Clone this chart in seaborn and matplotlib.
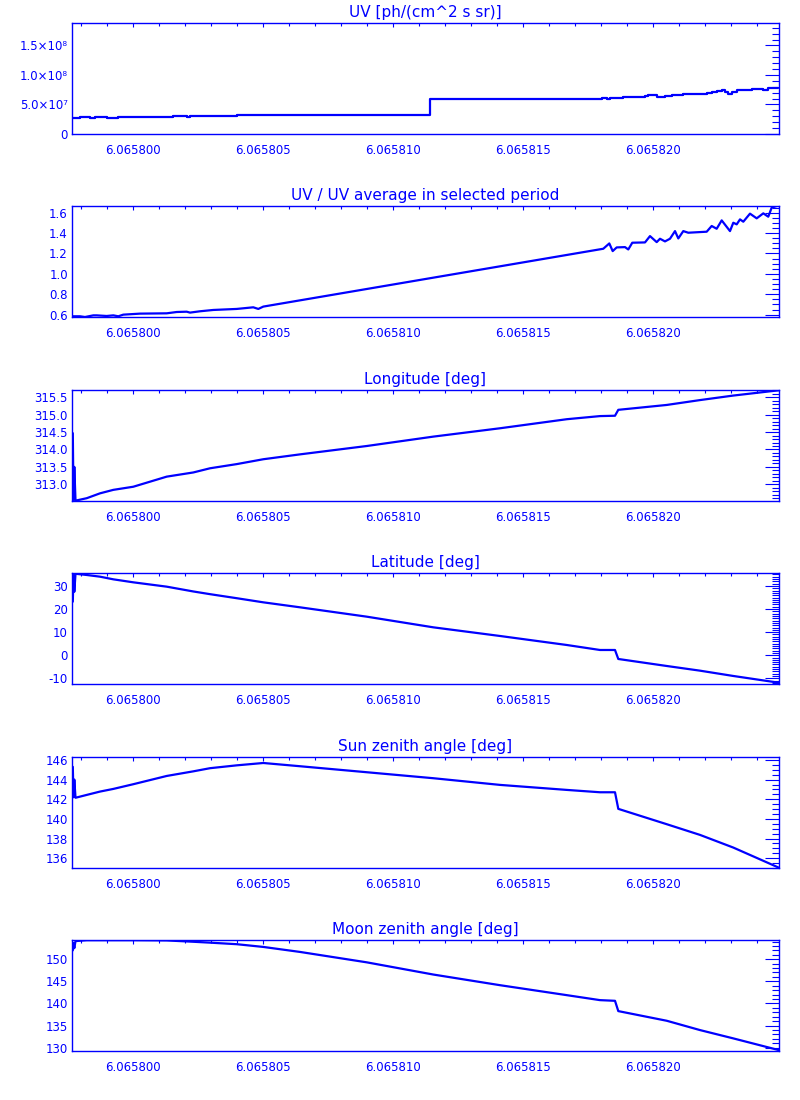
import matplotlib
matplotlib.use("Agg")
import matplotlib.pyplot as plt
import seaborn as sns
from matplotlib.ticker import MultipleLocator, FormatStrFormatter, FixedLocator, FixedFormatter

# ---------------- data ----------------
titles = ["UV [ph/(cm^2 s sr)]", "UV / UV average in selected period", "Longitude [deg]",
          "Latitude [deg]", "Sun zenith angle [deg]", "Moon zenith angle [deg]"]

uv_time = [6.065797642, 6.065797965, 6.065798350, 6.065798527, 6.065798977, 6.065799423,
           6.065801538, 6.065802054, 6.065802181, 6.065803977, 6.065811412, 6.065818015,
           6.065818208, 6.065818335, 6.065818846, 6.065819038, 6.065819681, 6.065819808,
           6.065820131, 6.065820258, 6.065820450, 6.065820708, 6.065820835, 6.065821154,
           6.065821285, 6.065822054, 6.065822246, 6.065822438, 6.065822631, 6.065822758,
           6.065822885, 6.065823015, 6.065823208, 6.065823592, 6.065823785, 6.065824231,
           6.065824423, 6.065824808]
uv_flux = [2.75e7, 2.91e7, 2.75e7, 2.91e7, 2.75e7, 2.91e7, 3.08e7, 2.91e7, 3.08e7, 3.25e7,
           6.01e7, 6.18e7, 6.01e7, 6.12e7, 6.23e7, 6.29e7, 6.46e7, 6.57e7, 6.35e7, 6.29e7,
           6.46e7, 6.68e7, 6.62e7, 6.85e7, 6.74e7, 6.91e7, 7.07e7, 7.24e7, 7.47e7, 7.13e7,
           6.85e7, 7.19e7, 7.41e7, 7.52e7, 7.58e7, 7.41e7, 7.86e7, 7.86e7]
uv_ticks = [0, 5e7, 1e8, 1.5e8]
uv_tick_labels = ["0", "5.0×10⁷", "1.0×10⁸", "1.5×10⁸"]

ratio_time = [6.065797669, 6.065797950, 6.065798142, 6.065798462, 6.065798592, 6.065798977,
              6.065799231, 6.065799423, 6.065799615, 6.065800258, 6.065801285, 6.065801669,
              6.065802054, 6.065802181, 6.065802565, 6.065803077, 6.065803977, 6.065804615,
              6.065804808, 6.065805000,
              6.065818077, 6.065818308, 6.065818438, 6.065818592, 6.065818912, 6.065819038,
              6.065819192, 6.065819681, 6.065819873, 6.065820131, 6.065820258, 6.065820450,
              6.065820642, 6.065820835, 6.065820962, 6.065821154, 6.065821346, 6.065822054,
              6.065822246, 6.065822438, 6.065822631, 6.065822950, 6.065823077, 6.065823208,
              6.065823335, 6.065823462, 6.065823719, 6.065823977, 6.065824231, 6.065824423,
              6.065824554, 6.065824746]
ratio = [0.584, 0.584, 0.577, 0.593, 0.593, 0.587, 0.593, 0.584, 0.600, 0.610,
         0.613, 0.626, 0.629, 0.620, 0.633, 0.646, 0.656, 0.672, 0.656, 0.679,
         1.246, 1.298, 1.223, 1.259, 1.262, 1.239, 1.305, 1.308, 1.370, 1.311,
         1.344, 1.318, 1.344, 1.419, 1.347, 1.419, 1.403, 1.413, 1.469, 1.442,
         1.524, 1.419, 1.501, 1.485, 1.534, 1.511, 1.590, 1.544, 1.593, 1.560,
         1.649, 1.665]

geo_time = [6.065797673, 6.065797700, 6.065797731, 6.065797777, 6.065798208, 6.065798719,
            6.065799231, 6.065800000, 6.065801285, 6.065802308, 6.065802950, 6.065803977,
            6.065805000, 6.065806412, 6.065808977, 6.065811538, 6.065814104, 6.065816669,
            6.065817950, 6.065818527, 6.065818654, 6.065820515, 6.065821796, 6.065823077,
            6.065824815]
longitude = [314.47, 312.55, 313.50, 312.53, 312.60, 312.74, 312.84, 312.93, 313.22, 313.34,
             313.46, 313.58, 313.72, 313.86, 314.10, 314.37, 314.61, 314.87, 314.96, 314.97,
             315.14, 315.28, 315.42, 315.55, 315.70]
latitude = [23.2, 35.6, 27.5, 35.3, 34.77, 34.04, 32.89, 31.59, 29.71, 27.63, 26.46, 24.71,
            22.92, 20.76, 16.71, 12.09, 8.34, 4.44, 2.27, 2.27, -1.63, -4.66, -6.69, -8.99,
            -11.89]
sun_zenith = [145.3, 142.2, 144.0, 142.15, 142.44, 142.78, 143.05, 143.53, 144.37, 144.84,
              145.16, 145.45, 145.69, 145.36, 144.75, 144.14, 143.46, 142.95, 142.71, 142.71,
              141.02, 139.46, 138.37, 137.08, 135.05]
moon_zenith = [152.0, 153.7, 152.5, 154.1, 154.3, 154.3, 154.3, 154.3, 154.25, 153.95,
               153.75, 153.4, 152.78, 151.65, 149.3, 146.54, 144.13, 141.88, 140.75, 140.60,
               138.27, 136.09, 133.98, 132.10, 129.47]

# ---------------- style ----------------
sns.set_style("white")
plt.rcParams["font.family"] = ["DejaVu Sans"]
BLUE = "#0000ff"
XMIN, XMAX = 6.065797642, 6.065824835

fig = plt.figure(figsize=(8, 11), dpi=100)
left, width, height = 0.09, 0.88375, 0.10091
bottoms = [0.87818, 0.71182, 0.54455, 0.37818, 0.21091, 0.04455]

panels = [
    (uv_time, uv_flux, (0, 1.88e8), None, 1e7, None, True),
    (ratio_time, ratio, (0.577, 1.665), 0.2, 0.05, "%.1f", False),
    (geo_time, longitude, (312.52, 315.71), 0.5, 0.1, "%.1f", False),
    (geo_time, latitude, (-12.47, 35.63), 10, 1, "%d", False),
    (geo_time, sun_zenith, (135.0, 146.3), 2, 0.5, "%d", False),
    (geo_time, moon_zenith, (129.25, 154.35), 5, 1, "%d", False),
]

for i, (xs, ys, ylim, major, minor, fmt, step) in enumerate(panels):
    ax = fig.add_axes([left, bottoms[i], width, height])
    kw = dict(drawstyle="steps-post") if step else {}
    sns.lineplot(x=xs, y=ys, ax=ax, color=BLUE, linewidth=1.6, estimator=None,
                 sort=False, **kw)
    ax.set_xlim(XMIN, XMAX)
    ax.set_ylim(*ylim)
    ax.xaxis.set_major_locator(MultipleLocator(5e-6))
    ax.xaxis.set_minor_locator(MultipleLocator(1e-6))
    ax.xaxis.set_major_formatter(FormatStrFormatter("%.6f"))
    if major is None:
        ax.yaxis.set_major_locator(FixedLocator(uv_ticks))
        ax.yaxis.set_major_formatter(FixedFormatter(uv_tick_labels))
    else:
        ax.yaxis.set_major_locator(MultipleLocator(major))
        ax.yaxis.set_major_formatter(FormatStrFormatter(fmt))
    ax.yaxis.set_minor_locator(MultipleLocator(minor))
    for s in ax.spines.values():
        s.set_color(BLUE)
        s.set_linewidth(1.0)
    ax.tick_params(which="both", direction="in", top=True, right=True,
                   color=BLUE, labelcolor=BLUE, width=0.8, labelsize=8.5)
    ax.tick_params(axis="x", which="major", length=3, pad=7)
    ax.tick_params(axis="x", which="minor", length=2.5)
    ax.tick_params(axis="y", which="major", length=10, pad=3)
    ax.tick_params(axis="y", which="minor", length=5)
    ax.set_xlabel("")
    ax.set_ylabel("")
    ax.set_title(titles[i], color=BLUE, fontsize=11, pad=4)

fig.savefig("out.png", dpi=100, facecolor="white")
